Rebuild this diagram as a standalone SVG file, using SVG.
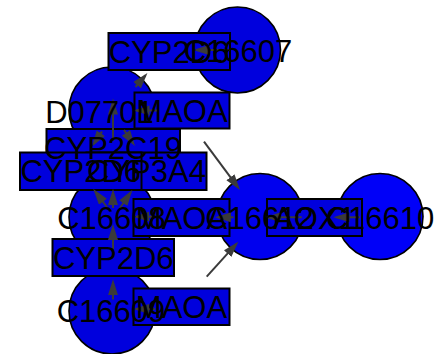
<svg xmlns="http://www.w3.org/2000/svg" width="444" height="354" viewBox="0 0 444 354">
<style>
.c{stroke:#000;stroke-width:1.6;fill:#0000dd}
.r{stroke:#000;stroke-width:2;fill:#0000dd}
.e{stroke:#3a3a3a;stroke-width:2;fill:none;marker-end:url(#ah)}
text{font-family:"Liberation Sans",Arial,sans-serif;font-size:31px;fill:#000;text-anchor:middle}
</style>
<defs>
<marker id="ah" markerUnits="userSpaceOnUse" markerWidth="17" markerHeight="11" refX="13" refY="5" orient="auto">
<path d="M0,0 L16,5 L0,10 z" fill="#3a3a3a"/>
</marker>
</defs>
<rect width="444" height="354" fill="#fff"/>
<g id="nodes">
<g id="node-C16607"><circle class="c" cx="237.5" cy="50" r="43"/></g>
<g id="node-D07701"><circle class="c" cx="112" cy="110" r="43"/></g>
<g id="node-C16608"><circle class="c" cx="112" cy="217" r="43"/></g>
<g id="node-C16609"><circle class="c" cx="112" cy="311" r="43"/></g>
<g id="node-C16612"><circle class="c" cx="260" cy="216.5" r="43" style="fill:#0000ee"/></g>
<g id="node-C16610"><circle class="c" cx="380" cy="216.5" r="43" style="fill:#0000f8"/></g>
<g id="node-CYP2D6-top"><rect class="r" x="108.5" y="33" width="121.5" height="37"/></g>
<g id="node-MAOA-top"><rect class="r" x="134.5" y="92.5" width="95" height="36"/></g>
<g id="node-CYP2C19"><rect class="r" x="46.5" y="129" width="133.5" height="37"/></g>
<g id="node-CYP3A4"><rect class="r" x="86.5" y="152.5" width="120" height="37.5"/></g>
<g id="node-CYP2D6-mid"><rect class="r" x="20" y="152.5" width="121.5" height="37.5"/></g>
<g id="node-MAOA-mid"><rect class="r" x="133.5" y="199" width="96" height="37"/></g>
<g id="node-AOX1"><rect class="r" x="267" y="199" width="95" height="37"/></g>
<g id="node-CYP2D6-bot"><rect class="r" x="52.5" y="239" width="121.5" height="37"/></g>
<g id="node-MAOA-bot"><rect class="r" x="133.5" y="288.5" width="96" height="36.5"/></g>
</g>
<g id="connectors">
<line class="e" x1="230" y1="50" x2="196" y2="50"/>
<line class="e" x1="135.5" y1="87" x2="145.5" y2="75.3"/>
<line class="e" x1="157" y1="110.5" x2="136.5" y2="110.5"/>
<line class="e" x1="113" y1="141" x2="113" y2="101.5"/>
<line class="e" x1="102" y1="131.5" x2="93.7" y2="144"/>
<line class="e" x1="124" y1="130" x2="133.3" y2="143.5"/>
<line class="e" x1="107" y1="207" x2="95.1" y2="191.4"/>
<line class="e" x1="113" y1="208" x2="113" y2="192"/>
<line class="e" x1="120" y1="208" x2="130.6" y2="192.5"/>
<line class="e" x1="113" y1="250" x2="113" y2="227"/>
<line class="e" x1="156.5" y1="216.7" x2="136.3" y2="216.7"/>
<line class="e" x1="233.5" y1="217.3" x2="218" y2="217.3"/>
<line class="e" x1="301.7" y1="217.3" x2="268" y2="217.3"/>
<line class="e" x1="360" y1="217.3" x2="336.5" y2="217.3"/>
<line class="e" x1="204" y1="141.7" x2="238.2" y2="187.6"/>
<line class="e" x1="206.7" y1="276.7" x2="236.3" y2="243.9"/>
<line class="e" x1="113" y1="299.5" x2="113" y2="282.3"/>
<line class="e" x1="155" y1="309" x2="136.3" y2="309"/>
</g>
<g id="labels">
<text id="label-C16607" x="238" y="62">C16607</text>
<text id="label-D07701" x="99.5" y="122.5">D07701</text>
<text id="label-C16608" x="111.5" y="228.5">C16608</text>
<text id="label-C16609" x="111" y="321.7">C16609</text>
<text id="label-C16612" x="259.5" y="228.5">C16612</text>
<text id="label-C16610" x="380" y="228.5">C16610</text>
<text id="label-CYP2D6-top" x="169" y="62.6">CYP2D6</text>
<text id="label-MAOA-top" x="182" y="121.6">MAOA</text>
<text id="label-CYP2C19" x="113" y="158.6">CYP2C19</text>
<text id="label-CYP3A4" x="146.5" y="182.3">CYP3A4</text>
<text id="label-CYP2D6-mid" x="80.75" y="182.3">CYP2D6</text>
<text id="label-MAOA-mid" x="181.5" y="228.6">MAOA</text>
<text id="label-AOX1" x="314.5" y="228.6">AOX1</text>
<text id="label-CYP2D6-bot" x="113.25" y="268.6">CYP2D6</text>
<text id="label-MAOA-bot" x="181.5" y="317.9">MAOA</text>
</g>
</svg>
